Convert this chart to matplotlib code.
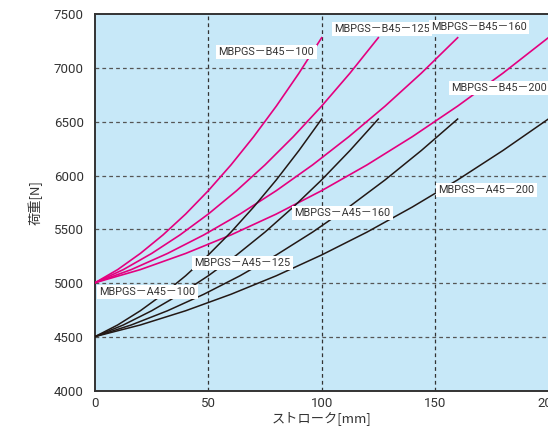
import numpy as np
import matplotlib
matplotlib.use("Agg")
import matplotlib.pyplot as plt

# stroke positions read for each model (mm)
stroke_100 = [0, 10, 20, 30, 40, 50, 60, 70, 80, 90, 100]
stroke_125 = [0, 12.5, 25, 37.5, 50, 62.5, 75, 87.5, 100, 112.5, 125]
stroke_160 = [0, 16, 32, 48, 64, 80, 96, 112, 128, 144, 160]
stroke_200 = [0, 20, 40, 60, 80, 100, 120, 140, 160, 180, 200]

# load [N] (same shape for every stroke length)
load_b45 = [5005, 5127, 5277, 5449, 5643, 5860, 6099, 6361, 6645, 6951, 7280]
load_a45 = [4505, 4613, 4745, 4898, 5070, 5263, 5475, 5708, 5960, 6233, 6525]

labels = ["MBPGS－B45－100", "MBPGS－B45－125", "MBPGS－B45－160", "MBPGS－B45－200",
          "MBPGS－A45－100", "MBPGS－A45－125", "MBPGS－A45－160", "MBPGS－A45－200"]
# left edge of each label box
label_x = [54.5, 105.5, 148.4, 157.0, 1.9, 43.8, 88.0, 151.5]
label_y = [7147, 7361, 7379, 6813, 4919, 5188, 5652, 5866]

x_ticks = [0, 50, 100, 150, 200]
y_ticks = [4000, 4500, 5000, 5500, 6000, 6500, 7000, 7500]

pink = '#e4007f'
dark = '#231815'
narrow = ['Roboto', 'Noto Sans CJK JP', 'DejaVu Sans']
jp = ['Noto Sans CJK JP', 'DejaVu Sans']

fig = plt.figure(figsize=(5.48, 4.28), dpi=100)
ax = fig.add_axes([95 / 548, 37 / 428, 453.3 / 548, 377 / 428])
ax.set_facecolor('#c7e8f8')

strokes = [stroke_100, stroke_125, stroke_160, stroke_200]
for s in strokes:
    ax.plot(s, load_b45, color=pink, lw=1.2, zorder=3)
for s in strokes:
    ax.plot(s, load_a45, color=dark, lw=1.1, zorder=3)

for t, lx, ly in zip(labels, label_x, label_y):
    ax.text(lx, ly, t, ha='left', va='center', fontsize=7.8, family=narrow,
            color='#333333', zorder=5,
            bbox=dict(facecolor='white', edgecolor='none', pad=1.6))

ax.set_xlim(0, 200)
ax.set_ylim(4000, 7500)
ax.set_xticks(x_ticks)
ax.set_yticks(y_ticks)
ax.tick_params(axis='x', length=0, pad=4, labelsize=9.5, labelcolor='#333333')
ax.tick_params(axis='y', length=0, pad=8, labelsize=9.5, labelcolor='#333333')
for lab in ax.get_xticklabels() + ax.get_yticklabels():
    lab.set_family(narrow)

for v in [50, 100, 150]:
    ax.axvline(v, color='#333333', lw=0.9, ls=(0, (3, 2.5)), zorder=2)
for v in [4500, 5000, 5500, 6000, 6500, 7000]:
    ax.axhline(v, color='#555555', lw=0.9, ls=(0, (3, 2.5)), zorder=2)

for side in ['left', 'bottom', 'top']:
    ax.spines[side].set_color('#333333')
    ax.spines[side].set_linewidth(1.4)
ax.spines['right'].set_visible(False)

ax.set_xlabel('ストローク[mm]', family=jp, fontsize=9.5, color='#333333', labelpad=1)
ax.set_ylabel('荷重[N]', family=jp, fontsize=9.5, color='#333333', labelpad=8)

fig.savefig('out.png', dpi=100)
